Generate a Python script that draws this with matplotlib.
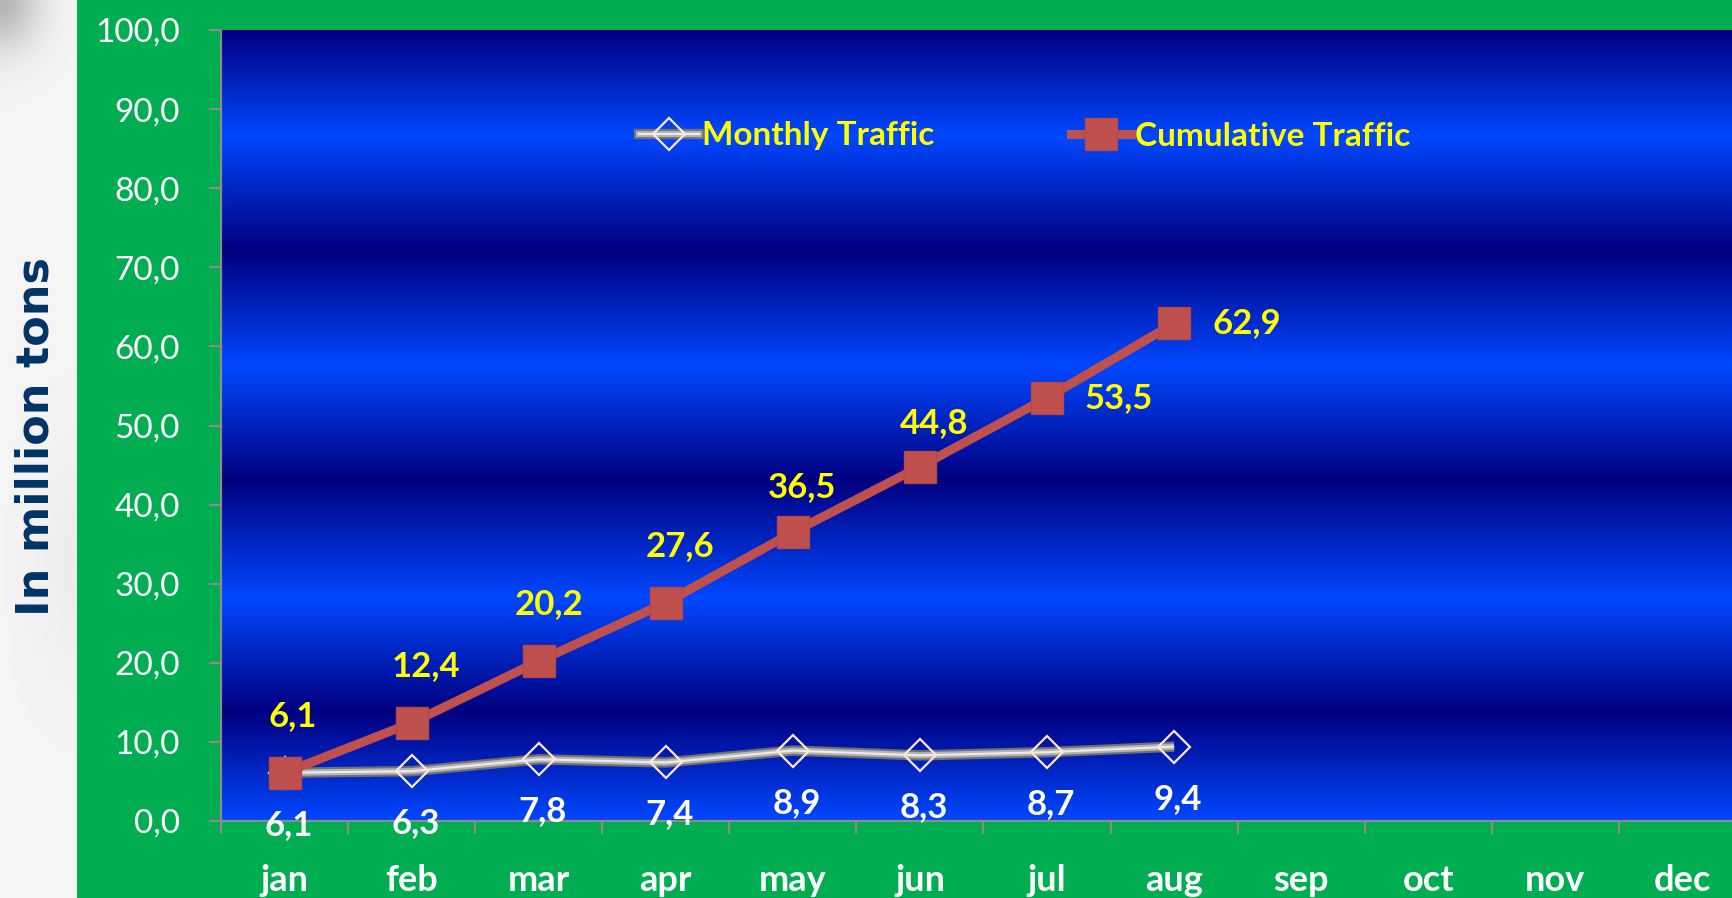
import numpy as np
import matplotlib
matplotlib.use('Agg')
import matplotlib.pyplot as plt
from matplotlib.patches import Rectangle
from matplotlib.lines import Line2D
from matplotlib.legend_handler import HandlerTuple

months = ['jan', 'feb', 'mar', 'apr', 'may', 'jun', 'jul', 'aug', 'sep', 'oct', 'nov', 'dec']
monthly = [6.1, 6.3, 7.8, 7.4, 8.9, 8.3, 8.7, 9.4]
cumulative = [6.1, 12.4, 20.2, 27.6, 36.5, 44.8, 53.5, 62.9]
yticks = [0, 10, 20, 30, 40, 50, 60, 70, 80, 90, 100]

W, H = 1733, 898
plt.rcParams['font.family'] = ['Lato', 'DejaVu Sans']

fig = plt.figure(figsize=(W / 100, H / 100), dpi=100, facecolor='white')

# left light strip with soft shading
strip = fig.add_axes([0, 0, 77 / W, 1])
yy, xx = np.mgrid[0:H, 0:77]
shade = 0.96 - 0.25 * np.exp(-((xx / 40.0) ** 2 + (yy / 50.0) ** 2))
shade -= 0.04 * np.exp(-(((yy - 560) / 120.0) ** 2)) * (xx / 77.0)
strip.imshow(shade, cmap='gray', vmin=0, vmax=1, aspect='auto')
strip.axis('off')

# green panel
fig.patches.append(Rectangle((77 / W, 0), 1, 1, transform=fig.transFigure,
                             facecolor='#00ad50', edgecolor='none', zorder=-1))

fig.text(36 / W, 1 - 437 / H, 'In million tons', rotation=90, ha='center', va='center',
         fontsize=32, fontweight='bold', color='#003366', family='DejaVu Sans')

ax = fig.add_axes([221 / W, 1 - 821 / H, (1746 - 221) / W, (821 - 30) / H])
ax.set_xlim(-0.5, 11.5)
ax.set_ylim(0, 100)

# banded blue background
dark = np.array([0.0, 0.0, 0.5])
bright = np.array([0.0, 0.28, 1.0])
stops = [0, 13.8, 28.2, 43.1, 57.5, 72.2, 86.7, 100]
cols = [bright, dark, bright, dark, bright, dark, bright, dark]
yv = np.linspace(0, 100, 800)
grad = np.stack([np.interp(yv, stops, [c[k] for c in cols]) for k in range(3)], axis=-1)
grad = np.repeat(grad[:, None, :], 2, axis=1)
ax.imshow(grad, extent=[-0.5, 11.5, 0, 100], origin='lower', aspect='auto', zorder=0)

for s in ['top', 'right']:
    ax.spines[s].set_visible(False)
for s in ['left', 'bottom']:
    ax.spines[s].set_color('#8c8c8c')
    ax.spines[s].set_linewidth(1.6)

ax.set_yticks(yticks)
ax.set_yticklabels([f'{v:.1f}'.replace('.', ',') for v in yticks])
ax.tick_params(axis='y', direction='out', length=8.6, width=1.6, color='#8c8c8c',
               labelcolor='white', labelsize=24, pad=21)

ax.set_xticks(np.arange(-0.5, 11.5, 1))
ax.set_xticklabels([])
ax.tick_params(axis='x', which='major', direction='out', length=9, width=1.6, color='#8c8c8c')
ax.set_xticks(np.arange(len(months)), minor=True)
ax.set_xticklabels(months, minor=True, fontweight='bold')
ax.tick_params(axis='x', which='minor', length=0, labelcolor='white', labelsize=26, pad=31)

x = np.arange(len(monthly))
m1, = ax.plot(x, monthly, color='#707070', lw=7.5, zorder=3, solid_capstyle='butt')
m2, = ax.plot(x, monthly, color='#b4b4b4', lw=4.5, zorder=3, solid_capstyle='butt')
m3, = ax.plot(x, monthly, color='#ececec', lw=1.5, zorder=3, marker='D', ms=16,
              mfc='none', mec='#ffe6d5', mew=1.6, solid_capstyle='butt')
cum, = ax.plot(x, cumulative, color='#c0504d', lw=6.5, marker='s', ms=23,
               mfc='#c0504d', mec='#b54946', mew=1, zorder=4)

for xi, v in zip(x, monthly):
    ax.annotate(f'{v:.1f}'.replace('.', ','), (xi, v), xytext=(4, -52),
                textcoords='offset pixels', ha='center', va='center', color='white',
                fontsize=25, fontweight='bold', zorder=5)

cum_off = [(8, 57), (14, 57), (10, 57), (14, 57), (9, 45), (14, 44), (72, 0), (73, 0)]
for xi, v, off in zip(x, cumulative, cum_off):
    ax.annotate(f'{v:.1f}'.replace('.', ','), (xi, v), xytext=off,
                textcoords='offset pixels', ha='center', va='center', color='#ffff00',
                fontsize=25, fontweight='bold', zorder=5)

h_month = (Line2D([], [], color='#707070', lw=7.5),
           Line2D([], [], color='#b4b4b4', lw=4.5),
           Line2D([], [], color='#ececec', lw=1.5, marker='D', ms=16, mfc='none',
                  mec='#ffe6d5', mew=1.6))
h_cum = Line2D([], [], color='#c0504d', lw=6.5, marker='s', ms=23, mfc='#c0504d', mec='#b54946')
leg = fig.legend([h_month, h_cum], ['Monthly Traffic', 'Cumulative Traffic'],
                 handler_map={tuple: HandlerTuple(ndivide=1)},
                 loc='center left', bbox_to_anchor=(639 / W, 1 - 136 / H), ncol=2,
                 frameon=False, borderpad=0, borderaxespad=0, handlelength=1.8,
                 handletextpad=0.1, columnspacing=4.1,
                 prop={'size': 24, 'weight': 'bold'}, labelcolor='#ffff00')

fig.savefig('out.png', dpi=100, facecolor=fig.get_facecolor())
